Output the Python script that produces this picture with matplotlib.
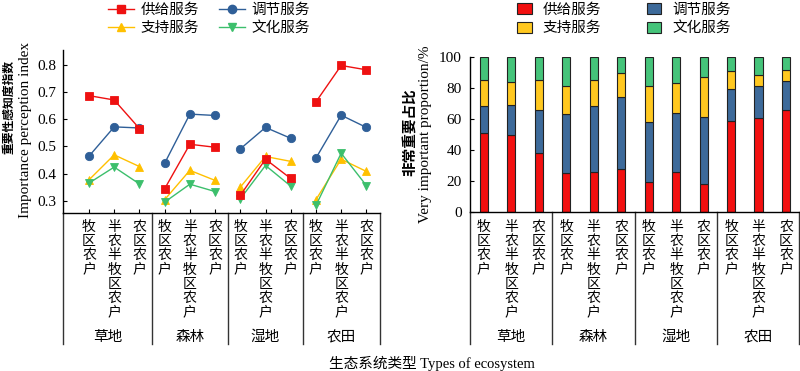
import matplotlib
matplotlib.use("Agg")
import matplotlib.pyplot as plt
from matplotlib.transforms import blended_transform_factory
from matplotlib.patches import Patch
from matplotlib.lines import Line2D

plt.rcParams['font.family'] = ['Liberation Serif', 'Noto Sans CJK SC', 'DejaVu Sans']

ecosystems = ['草地', '森林', '湿地', '农田']
farmers = ['牧区农户', '半农半牧区农户', '农区农户']
services = ['供给服务', '调节服务', '支持服务', '文化服务']

# Importance perception index (left), per ecosystem: 3 farmer types
supply_idx = [[0.687, 0.671, 0.566], [0.344, 0.508, 0.497], [0.320, 0.453, 0.382], [0.664, 0.798, 0.782]]
regul_idx = [[0.464, 0.572, 0.568], [0.438, 0.619, 0.614], [0.491, 0.570, 0.530], [0.457, 0.615, 0.570]]
support_idx = [[0.377, 0.469, 0.426], [0.304, 0.412, 0.375], [0.350, 0.463, 0.445], [0.304, 0.453, 0.408]]
culture_idx = [[0.365, 0.424, 0.362], [0.295, 0.361, 0.334], [0.307, 0.430, 0.354], [0.283, 0.475, 0.356]]

# Very important proportion (%) per bar (12 bars)
supply_pct = [51.0, 49.9, 37.8, 25.2, 26.0, 28.0, 19.6, 26.0, 17.8, 58.7, 60.4, 65.8]
regul_pct = [17.6, 19.3, 27.8, 38.0, 42.4, 46.0, 38.2, 38.1, 43.3, 20.4, 20.9, 18.5]
support_pct = [16.6, 14.9, 19.6, 17.9, 16.8, 15.7, 23.5, 19.3, 25.8, 11.9, 6.9, 7.3]
culture_pct = [14.8, 15.9, 14.8, 18.9, 14.8, 10.3, 18.7, 16.6, 13.1, 9.0, 11.8, 8.4]

line_colors = ['#ee1111', '#2f5f98', '#ffc000', '#3cbf6c']
bar_colors = ['#f21010', '#3d6a9a', '#ffc820', '#45c47a']
markers = ['s', 'o', '^', 'v']

W, H = 800, 371
fig = plt.figure(figsize=(8, 3.71), dpi=100)

def fx(px):
    return px / W

def fy(py):
    return (H - py) / H

axL = fig.add_axes([fx(63), fy(213), fx(380) - fx(63), fy(50) - fy(213)])
axR = fig.add_axes([fx(470), fy(212), fx(799) - fx(470), fy(57) - fy(212)])

# ---------------- left line chart ----------------
series = [supply_idx, regul_idx, support_idx, culture_idx]
for si, s in enumerate(series):
    for g in range(4):
        xs = [g * 3 + k for k in range(3)]
        axL.plot(xs, s[g], color=line_colors[si], lw=1.0, marker=markers[si],
                 markersize=6 if si != 0 else 5.5, markeredgecolor=line_colors[si],
                 markeredgewidth=0.6, clip_on=False, zorder=3 + (si == 0))
axL.set_xlim(-1.03, 11.54)
axL.set_ylim(0.255, 0.855)
axL.set_yticks([0.3, 0.4, 0.5, 0.6, 0.7, 0.8])
axL.set_yticklabels(['0.3', '0.4', '0.5', '0.6', '0.7', '0.8'], fontsize=11)
axL.set_xticks(range(12))
axL.set_xticklabels([])
axL.tick_params(direction='in', length=3, width=0.8, pad=5)
for sp in ['top', 'right']:
    axL.spines[sp].set_visible(False)
for sp in ['left', 'bottom']:
    axL.spines[sp].set_linewidth(1.0)

# ---------------- right stacked bar chart ----------------
bx = list(range(12))
bottom = [0] * 12
pcts = [supply_pct, regul_pct, support_pct, culture_pct]
for si, p in enumerate(pcts):
    axR.bar(bx, p, bottom=bottom, width=0.3, color=bar_colors[si],
            edgecolor='#222222', linewidth=0.8, zorder=2)
    bottom = [b + v for b, v in zip(bottom, p)]
axR.set_xlim(-0.5, 11.47)
axR.set_ylim(0, 100)
axR.set_yticks([0, 20, 40, 60, 80, 100])
axR.set_yticklabels(['0', '20', '40', '60', '80', '100'], fontsize=11)
axR.set_xticks([])
axR.tick_params(axis='y', direction='in', length=3, width=0.8, pad=6)
for sp in ['top', 'right']:
    axR.spines[sp].set_visible(False)
for sp in ['left', 'bottom']:
    axR.spines[sp].set_linewidth(1.0)

# ---------------- category tables ----------------
cjk = ['Noto Sans CJK SC', 'DejaVu Sans']
for ax, left_edge, right_edge in [(axL, -1.03, 11.54), (axR, -0.5, 11.47)]:
    tr = blended_transform_factory(ax.transData, fig.transFigure)
    y0 = ax.get_position().y0
    for xv in [left_edge, 2.5, 5.5, 8.5, right_edge]:
        ax.plot([xv, xv], [y0, fy(344)], color='#333333', lw=1.0,
                transform=tr, clip_on=False)
    for i in range(12):
        lab = farmers[i % 3]
        for j, ch in enumerate(lab):
            ax.text(i, fy(227 + j * 14.2), ch, transform=tr,
                    ha='center', va='center', fontsize=10, family=cjk)
    bounds = [left_edge, 2.5, 5.5, 8.5, right_edge]
    for g in range(4):
        ax.text((bounds[g] + bounds[g + 1]) / 2, fy(337), ecosystems[g],
                transform=tr, ha='center', va='center', fontsize=10.5,
                family=cjk)

# ---------------- axis labels ----------------
fig.text(fx(9), fy(107), '重要性感知度指数', rotation=90, ha='center', va='center',
         fontsize=8.5, family=cjk, fontweight='bold')
fig.text(fx(26), fy(130), 'Importance perception index', rotation=90,
         ha='center', va='center', fontsize=11)
fig.text(fx(409), fy(132), '非常重要占比', rotation=90, ha='center', va='center',
         fontsize=10.5, family=cjk, fontweight='bold')
fig.text(fx(426), fy(134), 'Very important proportion/%', rotation=90,
         ha='center', va='center', fontsize=11)
fig.text(fx(432), fy(363), '生态系统类型 Types of ecosystem', ha='center',
         va='center', fontsize=10.5, family=['Liberation Serif', 'Noto Sans CJK SC'])

# ---------------- legends (row-major order: 供给, 调节 / 支持, 文化) ----------------
order = [0, 2, 1, 3]
hL = [Line2D([0], [0], color=line_colors[i], marker=markers[i], lw=1.0,
             markersize=6, markeredgecolor=line_colors[i]) for i in range(4)]
legL = fig.legend([hL[i] for i in order], [services[i] for i in order],
                  ncol=2, loc='center', bbox_to_anchor=(fx(209), fy(19)),
                  frameon=False, prop={'family': cjk, 'size': 10.5},
                  handlelength=1.8, columnspacing=1.4, handletextpad=0.4,
                  labelspacing=0.3, borderpad=0.1)
hR = [Patch(facecolor=bar_colors[i], edgecolor='#222222', linewidth=0.8) for i in range(4)]
legR = fig.legend([hR[i] for i in order], [services[i] for i in order],
                  ncol=2, loc='center', bbox_to_anchor=(fx(624), fy(19)),
                  frameon=False, prop={'family': cjk, 'size': 10.5},
                  handlelength=1.0, handleheight=0.8, columnspacing=3.1,
                  handletextpad=0.75, labelspacing=0.3, borderpad=0.1)

fig.savefig('out.png', dpi=100)
